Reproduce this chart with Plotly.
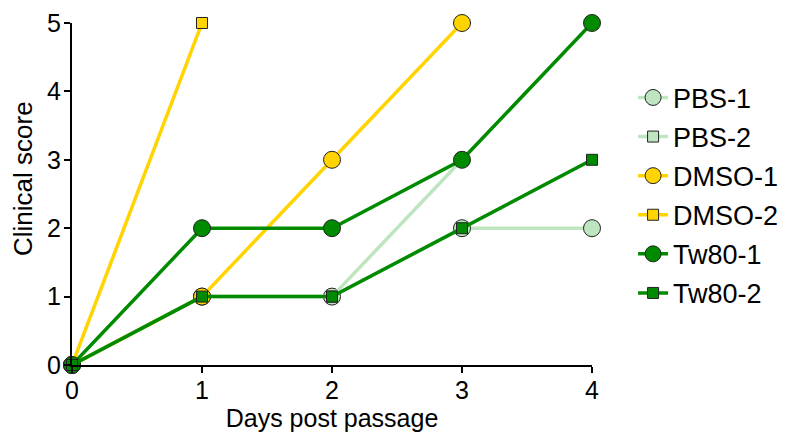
import plotly.graph_objects as go

days = [0, 1, 2, 3, 4]
pbs1 = [0, 1, 1, 2, 2]
pbs2 = [0, 1, 1, 3, None]
dmso1 = [0, 1, 3, 5, None]
dmso2 = [0, 5, None, None, None]
tw1 = [0, 2, 2, 3, 5]
tw2 = [0, 1, 1, 2, 3]

light = "#bfe5c0"
yellow = "#ffd400"
green = "#008a00"

series = [
    ("PBS-1", pbs1, light, "circle", 17),
    ("PBS-2", pbs2, light, "square", 11),
    ("DMSO-1", dmso1, yellow, "circle", 17),
    ("DMSO-2", dmso2, yellow, "square", 11),
    ("Tw80-1", tw1, green, "circle", 17),
    ("Tw80-2", tw2, green, "square", 11),
]

fig = go.Figure()
for i, (name, vals, col, sym, sz) in enumerate(series):
    fig.add_trace(go.Scatter(
        x=days, y=vals, name=name, mode="lines+markers",
        line=dict(color=col, width=3.5),
        marker=dict(symbol=sym, size=sz, color=col, line=dict(color="#222222", width=1)),
        cliponaxis=False, legendgroup=name, connectgaps=False,
    ))

font = "Liberation Sans, Arial, sans-serif"
T = 15
PH = 428 - T - 71
fig.update_layout(
    width=778, height=428,
    margin=dict(l=64, r=194, t=T, b=71, autoexpand=False),
    plot_bgcolor="white", paper_bgcolor="white",
    font=dict(family=font, color="black", size=25),
    showlegend=True,
    legend=dict(x=1.079, y=1 - (65.4 - T) / PH, xanchor="left", yanchor="top",
                font=dict(size=27, family=font), tracegroupgap=1,
                itemwidth=30, bgcolor="rgba(0,0,0,0)"),
    xaxis=dict(range=[0, 4], tickvals=days, showline=True, linecolor="black", linewidth=2,
               ticks="outside", ticklen=6, tickwidth=2, tickcolor="black", showgrid=False,
               zeroline=False, tickfont=dict(size=25), automargin=False,
               ticklabelstandoff=-4, ticklabeloverflow="allow",
               title=dict(text="Days post passage", font=dict(size=25), standoff=1)),
    yaxis=dict(range=[0, 5], tickvals=[0, 1, 2, 3, 4, 5], showline=True, linecolor="black",
               linewidth=2, ticks="outside", ticklen=6, tickwidth=2, tickcolor="black",
               showgrid=False, zeroline=False, tickfont=dict(size=25), automargin=False,
               ticklabelstandoff=-2, ticklabeloverflow="allow"),
    annotations=[dict(text="Clinical score", textangle=-90, x=-0.0942,
                      y=1 - (171 - T) / PH,
                      xref="paper", yref="paper", xanchor="center", yanchor="middle",
                      showarrow=False, font=dict(size=26, family=font, color="black"))],
)
fig.write_html("out.html")
